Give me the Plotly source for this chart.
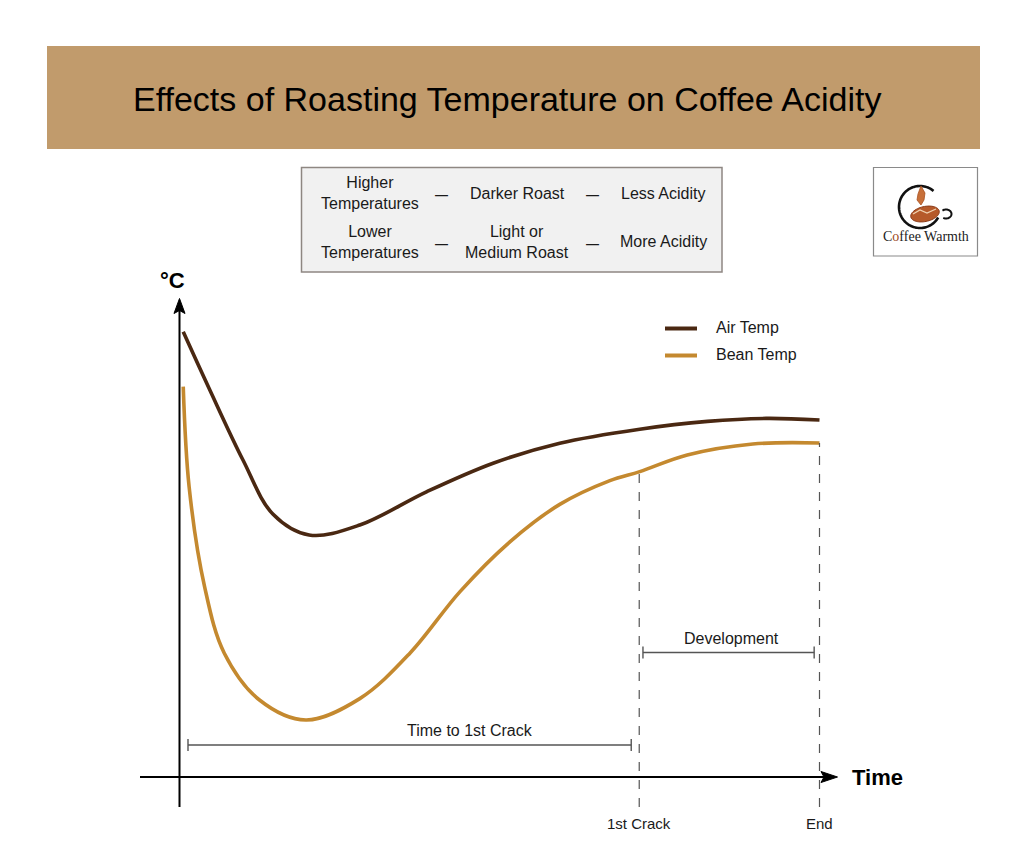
import numpy as np
import plotly.graph_objects as go

W, H = 1024, 853
OFF = 8                      # default page body margin
FW, FH = W - 2 * OFF, H - 2 * OFF

# ---------------- data ----------------
title = "Effects of Roasting Temperature on Coffee Acidity"

air_time = [0.07, 0.56, 1.19, 1.75, 2.43, 3.38, 4.64, 5.88, 7.13, 8.63, 9.9, 11.0, 12.0]
air_temp = [222.6, 194, 158.5, 131.5, 121, 126, 142.7, 156.9, 166.9, 173.9, 177.8, 179.3, 178.5]

bean_time = [0.07, 0.18, 0.47, 0.84, 1.50, 2.37, 3.38, 4.32, 5.26, 6.20, 7.13, 8.07, 8.63,
             9.52, 10.75, 12.0]
bean_temp = [195.2, 145.2, 95.2, 61.9, 38.5, 28.5, 39.2, 61.9, 92.7, 117.7, 136.3, 148.2, 152.7,
             161, 166.5, 167]

crack_time = 8.62
end_time = 12.0

series_names = ["Air Temp", "Bean Temp"]
series_colors = ["#4A2812", "#C4892F"]

table_rows = [
    ["Higher<br>Temperatures", "Darker Roast", "Less Acidity"],
    ["Lower<br>Temperatures", "Light or<br>Medium Roast", "More Acidity"],
]
x_tick_labels = ["1st Crack", "End"]
span_labels = ["Time to 1st Crack", "Development"]
axis_labels = ["Time", "°C"]
logo_text = "C<span style='color:#9C4A22'>o</span>ffee Warmth"

# ---------------- scales (page pixels) ----------------
X0PX, XSCALE = 179.5, 53.333   # page pixel of t=0, pixels per minute
Y0PX, YSCALE = 777.0, 2.0      # page pixel of T=0, pixels per degree
x_range = [(OFF - X0PX) / XSCALE, (OFF + FW - X0PX) / XSCALE]
y_range = [(Y0PX - (OFF + FH)) / YSCALE, (Y0PX - OFF) / YSCALE]


def dx(px):  # page pixel -> data x
    return (px - X0PX) / XSCALE


def dy(py):  # page pixel -> data y
    return (Y0PX - py) / YSCALE


def fx(px):  # page pixel -> paper x
    return (px - OFF) / FW


def fy(py):  # page pixel -> paper y
    return 1 - (py - OFF) / FH


FONT = "Liberation Sans, Arial, sans-serif"
TXT = "#1a1a1a"
GREY = "#555555"

fig = go.Figure()

for t, v, name, col in [(air_time, air_temp, series_names[0], series_colors[0]),
                        (bean_time, bean_temp, series_names[1], series_colors[1])]:
    fig.add_trace(go.Scatter(x=t, y=v, mode="lines", name=name,
                             line=dict(color=col, width=3.6, shape="spline", smoothing=1.0),
                             showlegend=False, hoverinfo="skip"))

shapes = []
ann = []

# banner
shapes.append(dict(type="rect", xref="paper", yref="paper", x0=fx(47), x1=fx(980), y0=fy(149), y1=fy(46),
                   fillcolor="#C19B6C", line=dict(width=0), layer="below"))
ann.append(dict(text=title, xref="paper", yref="paper", x=fx(507), y=fy(99), showarrow=False,
                xanchor="center", yanchor="middle", font=dict(size=34, color="#000000", family=FONT)))

# table box
shapes.append(dict(type="rect", xref="paper", yref="paper", x0=fx(301.5), x1=fx(722), y0=fy(272), y1=fy(167.5),
                   fillcolor="#F1F1F1", line=dict(color="#8E8782", width=1.5), layer="below"))
col_x = [370, 517, 663]
dash_x = [441, 592]
row_y = [193.5, 242]
for r, row in enumerate(table_rows):
    for c, cell in enumerate(row):
        ann.append(dict(text=cell, xref="paper", yref="paper", x=fx(col_x[c]), y=fy(row_y[r]), showarrow=False,
                        xanchor="center", yanchor="middle", font=dict(size=16, color=TXT, family=FONT)))
    for d in dash_x:
        ann.append(dict(text="<b>—</b>", xref="paper", yref="paper", x=fx(d), y=fy(row_y[r] + 1), showarrow=False,
                        xanchor="center", yanchor="middle", font=dict(size=13, color=TXT, family=FONT)))

# logo box
shapes.append(dict(type="rect", xref="paper", yref="paper", x0=fx(873.5), x1=fx(977.5), y0=fy(256), y1=fy(167.5),
                   fillcolor="#FFFFFF", line=dict(color="#8A8A8A", width=1.2), layer="below"))


def poly_path(pts, close=False):
    s = "M " + " L ".join(f"{fx(a):.5f},{fy(b):.5f}" for a, b in pts)
    return s + (" Z" if close else "")


cx, cy, rr = 920.0, 207.0, 21.0
ang = np.radians(np.linspace(50, 330, 80))
arc = [(cx + rr * np.cos(a), cy - rr * np.sin(a)) for a in ang]
shapes.append(dict(type="path", xref="paper", yref="paper", path=poly_path(arc),
                   line=dict(color="#111111", width=2.6)))
# cup handle
hang = np.radians(np.linspace(-120, 130, 40))
handle = [(946 + 5.5 * np.cos(a), 214 - 4.5 * np.sin(a)) for a in hang]
shapes.append(dict(type="path", xref="paper", yref="paper", path=poly_path(handle),
                   line=dict(color="#111111", width=2)))
# bean / cup body
bang = np.radians(np.linspace(0, 360, 60))
bean = []
for a in bang:
    x = 14.5 * np.cos(a)
    y = 7.5 * np.sin(a)
    rot = np.radians(-12)
    bean.append((925 + x * np.cos(rot) - y * np.sin(rot), 214 + x * np.sin(rot) + y * np.cos(rot)))
shapes.append(dict(type="path", xref="paper", yref="paper", path=poly_path(bean, True),
                   fillcolor="#B65A2A", line=dict(color="#8A3A18", width=1)))
crease = [(913, 214), (920, 210), (927, 213), (936, 209)]
shapes.append(dict(type="path", xref="paper", yref="paper", path=poly_path(crease),
                   line=dict(color="#F0D2B0", width=1.3)))
# steam flame
flame = [(921, 186), (925, 193), (924, 200), (921, 205), (917, 200), (918, 194)]
shapes.append(dict(type="path", xref="paper", yref="paper", path=poly_path(flame, True),
                   fillcolor="#C8703A", line=dict(color="#A85020", width=0.8)))
ann.append(dict(text=logo_text, xref="paper", yref="paper", x=fx(926), y=fy(237), showarrow=False,
                xanchor="center", yanchor="middle",
                font=dict(size=14, color="#222222", family="Liberation Serif, Times New Roman, serif")))

# legend (manual)
leg_y = [328.5, 355.5]
for name, col, ly in zip(series_names, series_colors, leg_y):
    shapes.append(dict(type="line", xref="paper", yref="paper", x0=fx(665), x1=fx(697), y0=fy(ly), y1=fy(ly),
                       line=dict(color=col, width=4)))
    ann.append(dict(text=name, xref="paper", yref="paper", x=fx(714), y=fy(ly - 1), showarrow=False,
                    xanchor="left", yanchor="middle", font=dict(size=16, color=TXT, family=FONT)))

# axes
axis_bottom = dy(807)
shapes.append(dict(type="line", xref="x", yref="y", x0=dx(140), x1=dx(824), y0=0, y1=0,
                   line=dict(color="#000000", width=2)))
shapes.append(dict(type="line", xref="x", yref="y", x0=0, x1=0, y0=axis_bottom, y1=dy(310),
                   line=dict(color="#000000", width=2)))
shapes.append(dict(type="path", xref="paper", yref="paper",
                   path=poly_path([(X0PX, 298.5), (X0PX + 5.5, 313.5), (X0PX, 310.5), (X0PX - 5.5, 313.5)], True),
                   fillcolor="#000000", line=dict(color="#000000", width=1)))
shapes.append(dict(type="path", xref="paper", yref="paper",
                   path=poly_path([(837.5, Y0PX), (821, Y0PX - 5.5), (824, Y0PX), (821, Y0PX + 5.5)], True),
                   fillcolor="#000000", line=dict(color="#000000", width=1)))
ann.append(dict(text="<b>" + axis_labels[0] + "</b>", xref="paper", yref="paper", x=fx(850), y=fy(777),
                showarrow=False, xanchor="left", yanchor="middle",
                font=dict(size=22, color="#000000", family=FONT)))
ann.append(dict(text="<b>" + axis_labels[1] + "</b>", xref="paper", yref="paper", x=fx(172), y=fy(280),
                showarrow=False, xanchor="center", yanchor="middle",
                font=dict(size=22, color="#000000", family=FONT)))

# dashed markers at 1st crack and end
for tt, lab in zip([crack_time, end_time], x_tick_labels):
    top = float(np.interp(tt, bean_time, bean_temp))
    shapes.append(dict(type="line", xref="x", yref="y", x0=tt, x1=tt, y0=axis_bottom, y1=top,
                       line=dict(color=GREY, width=1.2, dash="dash")))
    ann.append(dict(text=lab, x=tt, y=dy(823), xref="x", yref="y", showarrow=False,
                    xanchor="center", yanchor="middle", font=dict(size=15, color=TXT, family=FONT)))

# span brackets: (start, end, level, label centre)
spans = [(dx(188), crack_time - 0.15, dy(745), dx(470)),
         (crack_time + 0.07, end_time - 0.1, dy(652.5), dx(731))]
tick_h = 6 / YSCALE
for (a, b, yv, lx), lab in zip(spans, span_labels):
    shapes.append(dict(type="line", xref="x", yref="y", x0=a, x1=b, y0=yv, y1=yv,
                       line=dict(color=GREY, width=1.4)))
    for e in (a, b):
        shapes.append(dict(type="line", xref="x", yref="y", x0=e, x1=e, y0=yv - tick_h, y1=yv + tick_h,
                           line=dict(color=GREY, width=1.4)))
    ann.append(dict(text=lab, x=lx, y=yv + 14.5 / YSCALE, xref="x", yref="y", showarrow=False,
                    xanchor="center", yanchor="middle", font=dict(size=16, color=TXT, family=FONT)))

fig.update_layout(
    width=FW, height=FH, autosize=False,
    margin=dict(l=0, r=0, t=0, b=0, pad=0),
    paper_bgcolor="#FFFFFF", plot_bgcolor="#FFFFFF",
    font=dict(family=FONT),
    xaxis=dict(range=x_range, visible=False, fixedrange=True),
    yaxis=dict(range=y_range, visible=False, fixedrange=True),
    shapes=shapes, annotations=ann, showlegend=False,
)

fig.write_html("out.html", config={"displayModeBar": False})
